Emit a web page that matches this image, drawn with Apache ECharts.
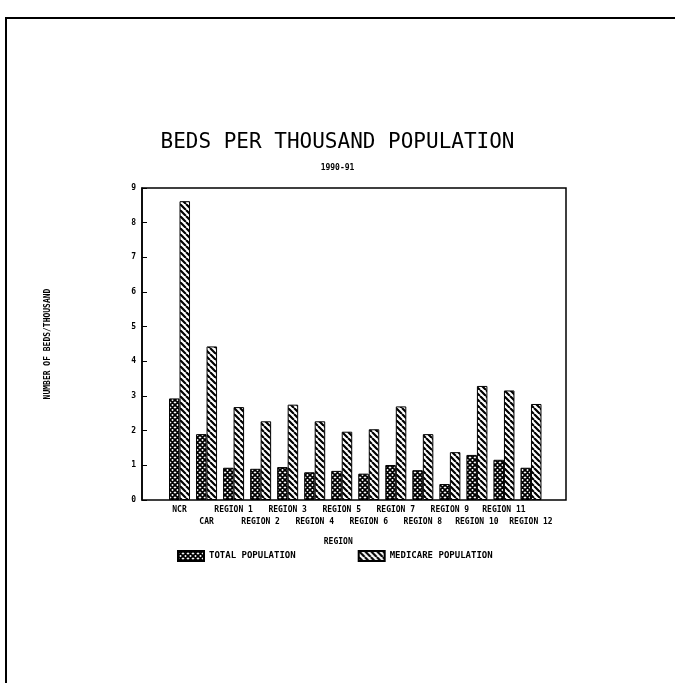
<!DOCTYPE html>
<html>
<head>
<meta charset="utf-8">
<title>Beds per thousand population</title>
<script src="https://cdn.jsdelivr.net/npm/echarts@6/dist/echarts.min.js"></script>
<style>
  html, body { margin: 0; padding: 0; background: #fff; }
  #main { width: 675px; height: 683px; }
</style>
</head>
<body>
<div id="main"></div>
<script>
// beds per thousand, 1990-91
var regions = ['NCR', 'CAR', 'REGION 1', 'REGION 2', 'REGION 3', 'REGION 4', 'REGION 5',
  'REGION 6', 'REGION 7', 'REGION 8', 'REGION 9', 'REGION 10', 'REGION 11', 'REGION 12']
var totalPop = [2.93, 1.90, 0.93, 0.90, 0.95, 0.80, 0.84, 0.76, 1.01, 0.86, 0.46, 1.30, 1.16, 0.93]
var medicarePop = [8.62, 4.43, 2.68, 2.27, 2.75, 2.27, 1.97, 2.04, 2.70, 1.90, 1.38, 3.29, 3.16, 2.77]
var seriesNames = ['TOTAL POPULATION', 'MEDICARE POPULATION']
var yMin = 0
var yMax = 9
var yStep = 1

var mono = 'DejaVu Sans Mono'

// hatch fills drawn on a small canvas tile
function makePattern(type) {
  var s = type === 'cross' ? 5 : 6
  var c = document.createElement('canvas')
  c.width = s
  c.height = s
  var ctx = c.getContext('2d')
  ctx.fillStyle = '#fff'
  ctx.fillRect(0, 0, s, s)
  ctx.strokeStyle = '#000'
  ctx.lineWidth = type === 'cross' ? 1.8 : 2.2
  ctx.beginPath()
  for (var k = -1; k <= 1; k++) {
    // backslash
    ctx.moveTo(k * s, 0)
    ctx.lineTo(k * s + s, s)
    if (type === 'cross') {
      ctx.moveTo(k * s, s)
      ctx.lineTo(k * s + s, 0)
    }
  }
  ctx.stroke()
  return c
}

var chart = echarts.init(document.getElementById('main'), null, { renderer: 'canvas' })

var option = {
  animation: false,
  backgroundColor: '#fff',
  title: {
    text: 'BEDS PER THOUSAND POPULATION',
    subtext: '1990-91',
    left: 'center',
    top: 127,
    itemGap: 11,
    textStyle: { fontFamily: mono, fontSize: 21, fontWeight: 'normal', color: '#000' },
    subtextStyle: { fontFamily: mono, fontSize: 8, fontWeight: 'bold', color: '#000' }
  },
  legend: {
    left: 172,
    top: 545,
    itemWidth: 26,
    itemHeight: 10,
    itemGap: 62,
    icon: 'rect',
    textStyle: { fontFamily: mono, fontSize: 9, fontWeight: 'bold', color: '#000' },
    data: seriesNames
  },
  grid: { left: 166, right: 130.5, top: 188, bottom: 183 },
  xAxis: {
    type: 'category',
    data: regions,
    name: 'REGION',
    nameLocation: 'middle',
    nameGap: 38,
    nameTextStyle: { fontFamily: mono, fontSize: 8, fontWeight: 'bold', color: '#000', padding: [0, 34, 0, 0] },
    axisLine: { show: false },
    axisTick: { show: false },
    axisLabel: {
      interval: 0,
      margin: 4,
      lineHeight: 12,
      fontFamily: mono,
      fontSize: 8,
      fontWeight: 'bold',
      color: '#000',
      formatter: function (val, idx) {
        // staggered rows like the plotter output
        return idx % 2 ? '\n' + val : val
      }
    }
  },
  yAxis: {
    type: 'value',
    min: yMin,
    max: yMax,
    interval: yStep,
    offset: 24,
    name: 'NUMBER OF BEDS/THOUSAND',
    nameLocation: 'middle',
    nameGap: 90,
    nameTextStyle: { fontFamily: mono, fontSize: 8, fontWeight: 'bold', color: '#000' },
    axisLine: { show: true, lineStyle: { color: '#000', width: 1.5 } },
    axisTick: { show: true, inside: true, length: 5, lineStyle: { color: '#000' } },
    splitLine: { show: false },
    axisLabel: { margin: 6, fontFamily: mono, fontSize: 8, fontWeight: 'bold', color: '#000' }
  },
  graphic: [
    // plot frame
    {
      type: 'rect',
      shape: { x: 142, y: 188, width: 424, height: 312 },
      style: { fill: 'none', stroke: '#000', lineWidth: 1.5 },
      z: 0
    },
    // page border
    {
      type: 'polyline',
      shape: { points: [[6, 683], [6, 18], [675, 18]] },
      style: { fill: 'none', stroke: '#000', lineWidth: 2 }
    }
  ],
  series: [
    {
      name: seriesNames[0],
      type: 'bar',
      data: totalPop,
      barWidth: 10.5,
      barGap: '0%',
      itemStyle: {
        color: { image: makePattern('cross'), repeat: 'repeat' },
        borderColor: '#000',
        borderWidth: 1
      }
    },
    {
      name: seriesNames[1],
      type: 'bar',
      data: medicarePop,
      barWidth: 10.5,
      barGap: '0%',
      itemStyle: {
        color: { image: makePattern('line'), repeat: 'repeat' },
        borderColor: '#000',
        borderWidth: 1
      }
    }
  ]
}

chart.setOption(option)
</script>
</body>
</html>
